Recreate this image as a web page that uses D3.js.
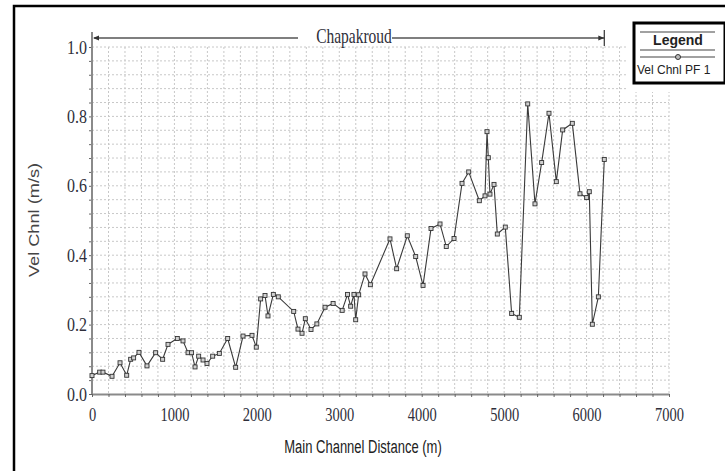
<!DOCTYPE html>
<html>
<head>
<meta charset="utf-8">
<script src="https://cdn.jsdelivr.net/npm/d3@7"></script>
<style>
  body { margin: 0; background: #fff; }
  svg { display: block; }
  .serif { font-family: "Liberation Serif", "DejaVu Serif", serif; fill: #2e2e3a; }
  .sans { font-family: "Liberation Sans", Arial, sans-serif; fill: #222; }
</style>
</head>
<body>
<div id="chart"></div>
<script>
// distances along the main channel (m) and channel velocity (m/s)
const distance = [0, 93, 133, 243, 340, 421, 469, 505, 570, 667,
  772, 857, 922, 1035, 1104, 1165, 1208, 1250, 1294, 1347,
  1395, 1464, 1545, 1646, 1743, 1832, 1941, 1993, 2046, 2099,
  2135, 2200, 2260, 2447, 2499, 2548, 2588, 2657, 2728, 2827,
  2925, 3035, 3100, 3138, 3178, 3199, 3235, 3312, 3377, 3615,
  3696, 3825, 3927, 4016, 4113, 4222, 4298, 4392, 4489, 4570,
  4699, 4768, 4792, 4808, 4828, 4877, 4917, 5014, 5091, 5184,
  5286, 5374, 5455, 5544, 5633, 5710, 5827, 5920, 6001, 6033,
  6070, 6143, 6215];
const velChnl = [0.053, 0.063, 0.063, 0.051, 0.090, 0.054, 0.100, 0.104, 0.120, 0.081,
  0.119, 0.100, 0.143, 0.160, 0.153, 0.119, 0.119, 0.078, 0.109, 0.098,
  0.088, 0.109, 0.117, 0.160, 0.077, 0.167, 0.169, 0.135, 0.274, 0.284,
  0.225, 0.287, 0.280, 0.238, 0.187, 0.175, 0.217, 0.186, 0.202, 0.250,
  0.261, 0.241, 0.287, 0.253, 0.287, 0.214, 0.286, 0.346, 0.315, 0.447,
  0.361, 0.456, 0.396, 0.313, 0.477, 0.490, 0.425, 0.448, 0.607, 0.640,
  0.557, 0.571, 0.756, 0.681, 0.576, 0.604, 0.461, 0.481, 0.232, 0.221,
  0.836, 0.548, 0.667, 0.809, 0.612, 0.761, 0.780, 0.577, 0.566, 0.583,
  0.201, 0.280, 0.676];
const xTickLabels = [0, 1000, 2000, 3000, 4000, 5000, 6000, 7000];
const yTickLabels = [0.0, 0.2, 0.4, 0.6, 0.8, 1.0];
const reachName = "Chapakroud";
const reachStart = 0, reachEnd = 6215;
const seriesName = "Vel Chnl PF 1";

const width = 725, height = 471;
const svg = d3.select("#chart").append("svg")
    .attr("width", width)
    .attr("height", height);

// outer frame
svg.append("rect")
    .attr("x", 14).attr("y", 6)
    .attr("width", 740).attr("height", 500)
    .attr("fill", "none").attr("stroke", "#000").attr("stroke-width", 2.5);

let x = d3.scaleLinear().domain([0, 7000]).range([92, 669]);
let y = d3.scaleLinear().domain([0, 1]).range([394, 47]);

// dotted grid, 200 m by 0.04 m/s
let gridX = d3.range(200, 7001, 200);
let gridY = d3.range(1, 26).map(i => i * 0.04);
svg.append("g").selectAll("line").data(gridX).join("line")
    .attr("x1", d => x(d)).attr("x2", d => x(d))
    .attr("y1", y(1)).attr("y2", y(0))
    .attr("stroke", "#c8c8c8").attr("stroke-dasharray", "2,2");
svg.append("g").selectAll("line").data(gridY).join("line")
    .attr("x1", x(0)).attr("x2", x(7000))
    .attr("y1", d => y(d)).attr("y2", d => y(d))
    .attr("stroke", "#c8c8c8").attr("stroke-dasharray", "2,2");

// axes
let xAxis = d3.axisBottom(x).tickValues(d3.range(0, 7001, 200)).tickSize(3).tickSizeOuter(0)
    .tickFormat(d => xTickLabels.includes(d) ? d : "");
let gx = svg.append("g").attr("transform", "translate(0," + y(0) + ")").call(xAxis);
gx.select(".domain").attr("stroke", "#8a8a8a").attr("stroke-width", 2);
gx.selectAll(".tick line").attr("stroke", "#666");
gx.selectAll(".tick text")
    .attr("class", "serif").attr("font-size", 14.5)
    .attr("y", 0).attr("dy", null)
    .attr("transform", "translate(0,27) scale(1,1.35)");

let yAxis = d3.axisLeft(y).tickValues(d3.range(0, 26).map(i => i * 0.04)).tickSize(3).tickSizeOuter(0)
    .tickFormat(d => yTickLabels.some(v => Math.abs(v - d) < 1e-6) ? d3.format(".1f")(d) : "");
let gy = svg.append("g").attr("transform", "translate(" + x(0) + ",0)").call(yAxis);
gy.select(".domain").remove();
gy.append("line").attr("x1", 0).attr("x2", 0).attr("y1", 32).attr("y2", y(0))
    .attr("stroke", "#8a8a8a").attr("stroke-width", 2);
gy.selectAll(".tick line").attr("stroke", "#666");
gy.selectAll(".tick text")
    .attr("class", "serif").attr("font-size", 16)
    .attr("x", 0).attr("dy", null)
    .attr("transform", "translate(-5,6) scale(1,1.18)");

// reach line with its name
let reach = svg.append("g");
reach.append("line")
    .attr("x1", x(reachStart) + 2).attr("x2", x(reachEnd))
    .attr("y1", 38).attr("y2", 38)
    .attr("stroke", "#555").attr("stroke-width", 1.5);
reach.append("path")
    .attr("d", `M${x(reachStart) + 1},38 l6,-2.5 v5 z`)
    .attr("fill", "#333");
reach.append("path")
    .attr("d", `M${x(reachEnd)},38 l-6,-2.5 v5 z`)
    .attr("fill", "#333");
reach.append("line")
    .attr("x1", x(reachEnd)).attr("x2", x(reachEnd))
    .attr("y1", 30).attr("y2", 46)
    .attr("stroke", "#333").attr("stroke-width", 1.2);
reach.append("rect")
    .attr("x", 298).attr("y", 30).attr("width", 94).attr("height", 16)
    .attr("fill", "#fff");
reach.append("text").attr("class", "serif")
    .attr("font-size", 15.5).attr("text-anchor", "middle")
    .attr("transform", "translate(354,43) scale(1,1.35)")
    .text(reachName);

// series
let pts = distance.map((d, i) => [d, velChnl[i]]);
svg.append("path")
    .datum(pts)
    .attr("fill", "none")
    .attr("stroke", "#3a3a3a")
    .attr("stroke-width", 1.1)
    .attr("d", d3.line().x(d => x(d[0])).y(d => y(d[1])));
svg.append("g").selectAll("rect").data(pts).join("rect")
    .attr("x", d => x(d[0]) - 2).attr("y", d => y(d[1]) - 2)
    .attr("width", 4).attr("height", 4)
    .attr("fill", "#d0d0d0").attr("stroke", "#333").attr("stroke-width", 0.9);

// axis titles
svg.append("text").attr("class", "sans")
    .attr("font-size", 13).attr("text-anchor", "middle").attr("fill", "#333")
    .attr("transform", "translate(363,453) scale(1,1.38)")
    .text("Main Channel Distance (m)");
svg.append("text").attr("class", "sans")
    .attr("font-size", 14).attr("text-anchor", "middle")
    .style("fill", "#444")
    .attr("transform", "translate(39,220) rotate(-90) scale(1.3,1.0)")
    .text("Vel Chnl (m/s)");

// legend
let legend = svg.append("g");
legend.append("rect")
    .attr("x", 627).attr("y", 8).attr("width", 98).attr("height", 84)
    .attr("fill", "#fff");
legend.append("rect")
    .attr("x", 634).attr("y", 23).attr("width", 91).attr("height", 60)
    .attr("fill", "#fff").attr("stroke", "#000").attr("stroke-width", 3);
legend.append("line").attr("x1", 640).attr("x2", 715).attr("y1", 32).attr("y2", 32)
    .attr("stroke", "#444").attr("stroke-width", 1.2);
legend.append("text").attr("class", "sans")
    .attr("x", 678).attr("y", 45).attr("font-size", 14).attr("font-weight", "bold")
    .attr("text-anchor", "middle").attr("fill", "#111")
    .text("Legend");
legend.append("line").attr("x1", 640).attr("x2", 715).attr("y1", 50).attr("y2", 50)
    .attr("stroke", "#444").attr("stroke-width", 1.2);
legend.append("line").attr("x1", 640).attr("x2", 715).attr("y1", 57).attr("y2", 57)
    .attr("stroke", "#444").attr("stroke-width", 1.2);
legend.append("circle").attr("cx", 678).attr("cy", 57).attr("r", 2.5)
    .attr("fill", "#bbb").attr("stroke", "#333");
legend.append("text").attr("class", "sans")
    .attr("x", 637).attr("y", 74).attr("font-size", 12)
    .text(seriesName);
</script>
</body>
</html>
